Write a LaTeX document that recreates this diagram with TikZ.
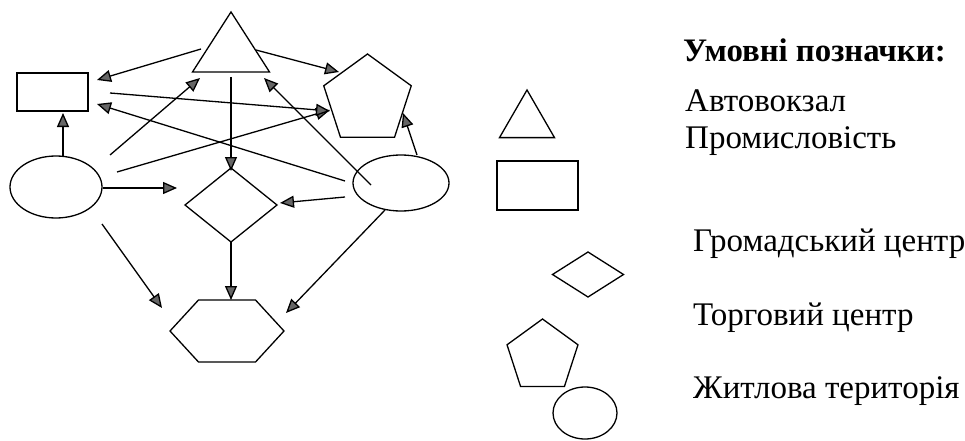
\documentclass[tikz,border=0pt]{standalone}
\usepackage{fontspec}
\setmainfont{Liberation Serif}
\usetikzlibrary{shapes.geometric,arrows.meta}
\tikzset{
  shp/.style={draw, line width=1.3pt, inner sep=0pt, outer sep=0pt},
  ell/.style={shp, ellipse},
  box/.style={shp, rectangle},
  dia/.style={shp, diamond},
  tri/.style={shp, regular polygon, regular polygon sides=3},
  pent/.style={shp, regular polygon, regular polygon sides=5},
  hexa/.style={shp, regular polygon, regular polygon sides=6},
  arr/.style={line width=1.3pt, -{Triangle[length=14pt,width=12pt,fill=black!60]}},
  lbl/.style={anchor=base west, inner sep=0pt, font=\fontsize{33}{33}\selectfont},
  head/.style={anchor=base west, inner sep=0pt, font=\fontsize{32.8}{33}\selectfont\bfseries},
}
\begin{document}
\begin{tikzpicture}[x=1pt,y=-1pt]
\useasboundingbox (0,0) rectangle (965,441);
% main diagram shapes
\begin{scope}[shift={(231,52)}]
  \node[tri, minimum size=89pt, yscale=0.9, transform shape] (T) at (0,0) {};
\end{scope}
\node[box, minimum width=71pt, minimum height=38pt] (R) at (52.5,92) {};
\node[pent, minimum size=92pt] (P) at (367.5,100) {};
\node[ell, minimum width=92pt, minimum height=62pt] (L) at (56,187) {};
\node[ell, minimum width=96pt, minimum height=56pt] (E) at (401,183) {};
\node[dia, minimum width=92pt, minimum height=74pt] (D) at (231,205) {};
\begin{scope}[shift={(227,331)}]
  \node[hexa, minimum size=114pt, yscale=0.628, transform shape] (H) at (0,0) {};
\end{scope}
% connectors
\draw[arr] ([shift={(-30,-3)}]T.center) -- ([shift={(44.5,-12)}]R.center);
\draw[arr] ([shift={(25,-2)}]T.center) -- ([shift={(-28.5,-28)}]P.center);
\draw[arr] ([shift={(0,25)}]T.center) -- ([shift={(0,-34)}]D.center);
\draw[arr] ([shift={(7,-30)}]L.center) -- ([shift={(10.5,21)}]R.center);
\draw[arr] ([shift={(54,-32)}]L.center) -- ([shift={(-31,26)}]T.center);
\draw[arr] ([shift={(61,-15)}]L.center) -- ([shift={(-37.5,10)}]P.center);
\draw[arr] ([shift={(47,1)}]L.center) -- ([shift={(-54,-17)}]D.center);
\draw[arr] ([shift={(57.5,1)}]R.center) -- ([shift={(-37.5,11)}]P.center);
\draw[arr] ([shift={(-56,-2)}]E.center) -- ([shift={(44.5,12)}]R.center);
\draw[arr] ([shift={(-30,2)}]E.center) -- ([shift={(33,26)}]T.center);
\draw[arr] ([shift={(16,-28)}]E.center) -- ([shift={(35.5,13)}]P.center);
\draw[arr] ([shift={(-56,14)}]E.center) -- ([shift={(49,-2)}]D.center);
\draw[arr] ([shift={(0,37)}]D.center) -- ([shift={(4,-31)}]H.center);
\draw[arr] ([shift={(46,37)}]L.center) -- ([shift={(-65,-23)}]H.center);
\draw[arr] ([shift={(-16,27)}]E.center) -- ([shift={(59,-18)}]H.center);
% legend
\node[head] (h) at (683,62) {Умовні позначки:};
\node[tri, minimum size=63.5pt] (T2) at (527,121.75) {};
\node[box, minimum width=81pt, minimum height=49pt] (R2) at (537.5,185.5) {};
\node[dia, minimum width=71pt, minimum height=45pt] (D2) at (588,274.5) {};
\node[pent, minimum size=74.6pt] (P2) at (542.5,356.3) {};
\node[ell, minimum width=64pt, minimum height=52pt] (E2) at (585,413) {};
\node[lbl] (l1) at (685,111) {Автовокзал};
\node[lbl] (l2) at (685,148) {Промисловість};
\node[lbl] (l3) at (693,251) {Громадський центр};
\node[lbl] (l4) at (693,325) {Торговий центр};
\node[lbl] (l5) at (693,398) {Житлова територія};
\end{tikzpicture}
\end{document}
